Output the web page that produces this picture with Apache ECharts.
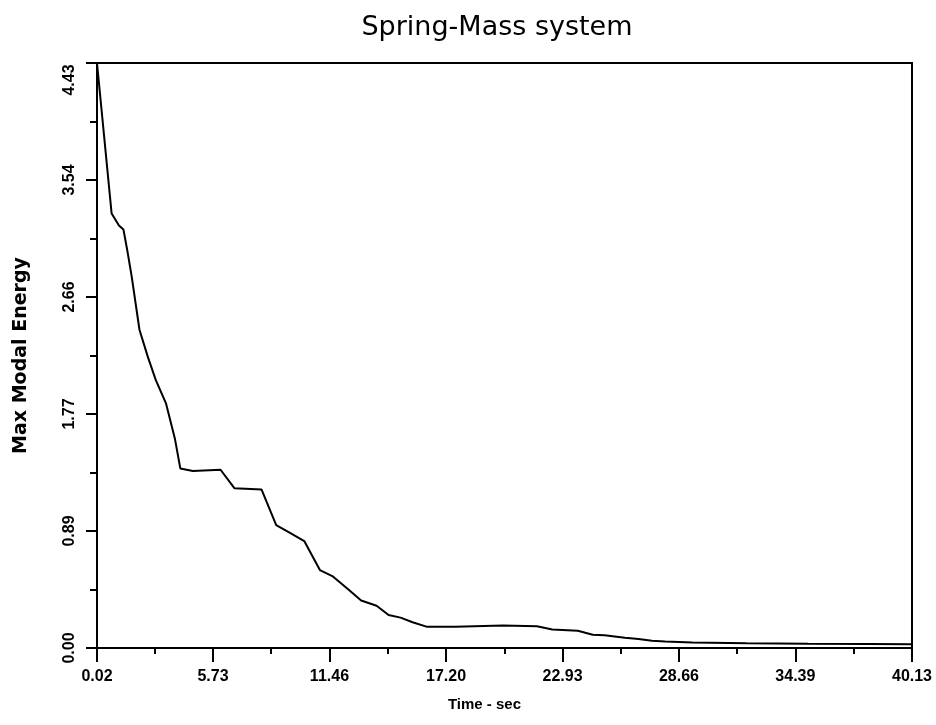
<!DOCTYPE html>
<html>
<head>
<meta charset="utf-8">
<script src="https://cdn.jsdelivr.net/npm/echarts@6/dist/echarts.min.js"></script>
<style>
html,body{margin:0;padding:0;background:#fff;}
#chart{width:936px;height:725px;}
</style>
</head>
<body>
<div id="chart"></div>
<script>
// Data
const timeSec = [0.02, 0.74, 1.10, 1.32, 1.50, 1.73, 2.11, 2.51, 2.91, 3.42, 3.86, 4.12, 4.74, 6.10, 6.78, 8.12, 8.84, 9.54, 10.22, 10.99, 11.60, 12.38, 13.02, 13.78, 14.37, 14.96, 15.55, 16.27, 17.65, 20.00, 21.67, 22.43, 23.68, 24.42, 25.00, 26.00, 26.67, 27.33, 27.99, 29.31, 32.00, 35.00, 38.00, 40.13];
const maxModalEnergy = [4.43, 3.29, 3.20, 3.17, 3.02, 2.81, 2.41, 2.21, 2.03, 1.85, 1.58, 1.36, 1.34, 1.35, 1.21, 1.20, 0.93, 0.87, 0.81, 0.59, 0.545, 0.445, 0.36, 0.32, 0.25, 0.23, 0.195, 0.16, 0.16, 0.17, 0.165, 0.14, 0.13, 0.10, 0.097, 0.078, 0.068, 0.055, 0.05, 0.042, 0.036, 0.032, 0.03, 0.028];

// Tick labels
const xTicks = [0.02, 5.73, 11.46, 17.20, 22.93, 28.66, 34.39, 40.13];
const xTickLabels = ['0.02', '5.73', '11.46', '17.20', '22.93', '28.66', '34.39', '40.13'];
const xMinorTicks = [2.875, 8.595, 14.33, 20.065, 25.795, 31.525, 37.26];
const yTicks = [0, 0.886, 1.772, 2.658, 3.544, 4.43];
const yTickLabels = ['0.00', '0.89', '1.77', '2.66', '3.54', '4.43'];
const yMinorTicks = [0.443, 1.329, 2.215, 3.101, 3.987];

const FONT = 'DejaVu Sans';
const LFONT = 'Liberation Sans';
const chart = echarts.init(document.getElementById('chart'), null, {renderer: 'canvas'});

const seriesData = timeSec.map((t, i) => [t, maxModalEnergy[i]]);

function xLabel(v) {
  const i = xTicks.findIndex(t => Math.abs(t - v) < 1e-6);
  return i >= 0 ? xTickLabels[i] : '';
}
function yLabel(v) {
  const i = yTicks.findIndex(t => Math.abs(t - v) < 1e-6);
  if (i < 0) return '';
  return i === yTicks.length - 1 ? '{top|' + yTickLabels[i] + '}' : yTickLabels[i];
}

const labelFont = {fontFamily: LFONT, fontSize: 16, fontWeight: 'bold', color: '#000'};

const option = {
  backgroundColor: '#fff',
  animation: false,
  title: {
    text: 'Spring-Mass system',
    left: 492,
    top: 9,
    textAlign: 'center',
    textStyle: {fontFamily: FONT, fontSize: 27, fontWeight: 'normal', color: '#000'}
  },
  grid: {
    left: 97, right: 24, top: 63, bottom: 77,
    show: true, borderColor: '#000', borderWidth: 2, backgroundColor: 'transparent'
  },
  xAxis: [{
    type: 'value',
    min: 0.02, max: 40.13,
    name: 'Time - sec',
    nameLocation: 'middle',
    nameGap: 49,
    nameTextStyle: {fontFamily: LFONT, fontSize: 15, fontWeight: 'bold', color: '#000', padding: [0, 40, 0, 0]},
    axisLine: {show: true, lineStyle: {color: '#000', width: 2}},
    axisTick: {show: true, customValues: xTicks, length: 14, lineStyle: {color: '#000', width: 2}},
    axisLabel: Object.assign({customValues: xTicks, formatter: xLabel, margin: 21}, labelFont),
    splitLine: {show: false}
  }, {
    type: 'value',
    position: 'bottom',
    min: 0.02, max: 40.13,
    axisLine: {show: false},
    axisTick: {show: true, customValues: xMinorTicks, length: 6, lineStyle: {color: '#000', width: 2}},
    axisLabel: {show: false},
    splitLine: {show: false}
  }],
  yAxis: [{
    type: 'value',
    min: 0, max: 4.43,
    name: 'Max Modal Energy',
    nameLocation: 'middle',
    nameGap: 66,
    nameRotate: 90,
    nameTextStyle: {fontFamily: FONT, fontSize: 19, fontWeight: 'bold', color: '#000'},
    axisLine: {show: true, lineStyle: {color: '#000', width: 2}},
    axisTick: {show: true, customValues: yTicks, length: 11, lineStyle: {color: '#000', width: 2}},
    axisLabel: Object.assign({
      customValues: yTicks, formatter: yLabel, rotate: 90, align: 'center', verticalAlign: 'bottom', margin: 19,
      rich: {top: {fontFamily: LFONT, fontSize: 16, fontWeight: 'bold', color: '#000', padding: [0, 34, 0, 0]}}
    }, labelFont),
    splitLine: {show: false}
  }, {
    type: 'value',
    position: 'left',
    min: 0, max: 4.43,
    axisLine: {show: false},
    axisTick: {show: true, customValues: yMinorTicks, length: 7, lineStyle: {color: '#000', width: 2}},
    axisLabel: {show: false},
    splitLine: {show: false}
  }],
  series: [{
    type: 'line',
    xAxisIndex: 0,
    yAxisIndex: 0,
    data: seriesData,
    showSymbol: false,
    smooth: false,
    lineStyle: {color: '#000', width: 2}
  }]
};
chart.setOption(option);
</script>
</body>
</html>
